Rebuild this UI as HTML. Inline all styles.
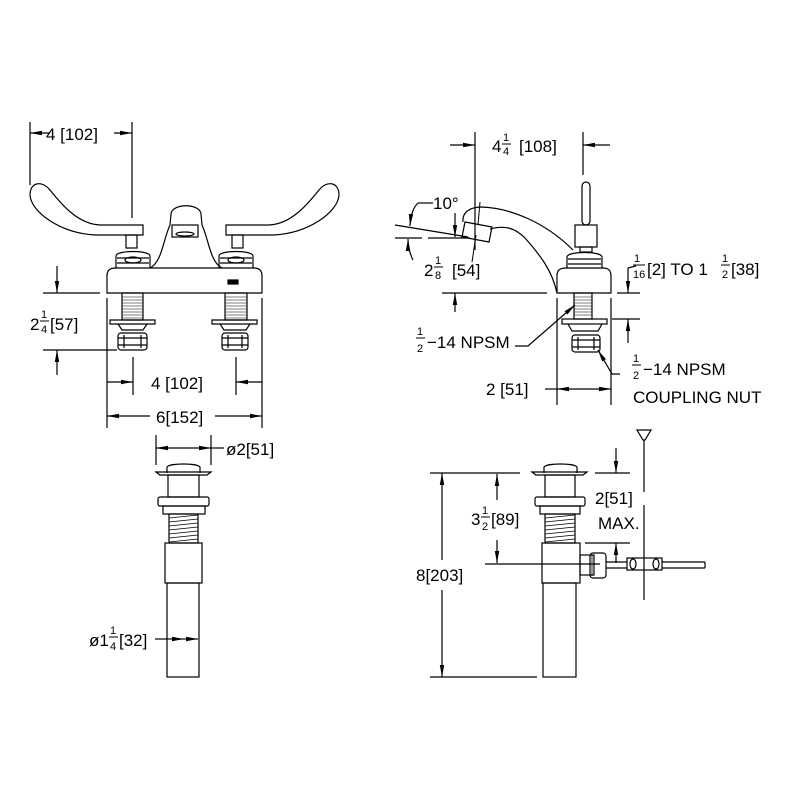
<!DOCTYPE html>
<html><head><meta charset="utf-8"><style>
html,body{margin:0;padding:0;background:#fff}
svg{display:block}
text{font-family:"Liberation Sans",sans-serif;fill:#000}
</style></head><body>
<svg width="800" height="800" viewBox="0 0 800 800" xmlns="http://www.w3.org/2000/svg">
<defs>
<marker id="a" viewBox="0 0 12 6" refX="12" refY="3" markerWidth="12" markerHeight="6" markerUnits="userSpaceOnUse" orient="auto"><path d="M0,0.8 L12,3 L0,5.2 Z" fill="#000"/></marker>
</defs>
<g fill="none" stroke="#000" stroke-width="1.2">
<!-- ===== TOP LEFT FRONT VIEW ===== -->
<line x1="30" y1="122" x2="30" y2="185"/>
<line x1="132" y1="122" x2="132" y2="218"/>
<line x1="50" y1="133" x2="30" y2="133" marker-end="url(#a)"/>
<line x1="114" y1="133" x2="132" y2="133" marker-end="url(#a)"/>
<!-- handles -->
<path id="h" d="M143,225 L100,225 C78,224 62,205 50,190 C42,180 30,182 30,195 C31,212 60,233 95,235 L143,235 Z"/>
<path d="M143,225 L100,225 C78,224 62,205 50,190 C42,180 30,182 30,195 C31,212 60,233 95,235 L143,235 Z" transform="translate(369,0) scale(-1,1)"/>
<rect x="126" y="235" width="11" height="13"/>
<rect x="232" y="235" width="11" height="13"/>
<!-- bonnet nuts -->
<path d="M116,268 L116,256 C116,250 150,250 150,256 L150,268"/>
<line x1="117" y1="258" x2="149" y2="258"/><line x1="117" y1="263" x2="149" y2="263"/>
<ellipse cx="133" cy="260" rx="8" ry="3"/>
<path d="M219,268 L219,256 C219,250 253,250 253,256 L253,268"/>
<line x1="220" y1="258" x2="252" y2="258"/><line x1="220" y1="263" x2="252" y2="263"/>
<ellipse cx="236" cy="260" rx="8" ry="3"/>
<!-- spout front -->
<path d="M150,268 C162,262 163,240 170,225 L171,214 C172,203 200,203 201,214 L202,225 C209,240 210,262 222,268"/>
<rect x="172" y="225" width="26" height="12"/>
<ellipse cx="185" cy="234" rx="9" ry="2"/>
<!-- body -->
<path d="M107,293 L107,276 C107,270 110,268 116,268 L253,268 C259,268 262,270 262,276 L262,293 Z"/>
<rect x="228" y="280" width="10" height="4" fill="#000"/>
<!-- shanks -->
<rect x="122" y="293" width="21" height="27"/>
<rect x="225" y="293" width="22" height="27"/>
<g stroke-width="0.6">
<path d="M122,297h21M122,300h21M122,303h21M122,306h21M122,309h21M122,312h21M122,315h21M122,318h21"/>
<path d="M225,297h22M225,300h22M225,303h22M225,306h22M225,309h22M225,312h22M225,315h22M225,318h22"/>
</g>
<path d="M110,320 L155,320 L155,324 L110,324 Z M118,324 L122,330 L143,330 L147,324"/>
<path d="M212,320 L257,320 L257,324 L212,324 Z M220,324 L224,330 L246,330 L250,324"/>
<rect x="118" y="333" width="29" height="17" rx="3"/>
<path d="M124,335v13M141,335v13M118,338h29M118,345h29"/>
<rect x="222" y="333" width="26" height="17" rx="3"/>
<path d="M228,335v13M242,335v13M222,338h26M222,345h26"/>
<!-- dims -->
<line x1="43" y1="293" x2="100" y2="293"/>
<line x1="43" y1="350" x2="117" y2="350"/>
<line x1="57" y1="266" x2="57" y2="293" marker-end="url(#a)"/>
<line x1="57" y1="375" x2="57" y2="350" marker-end="url(#a)"/>
<line x1="107" y1="298" x2="107" y2="428"/>
<line x1="262" y1="298" x2="262" y2="428"/>
<line x1="133" y1="357" x2="133" y2="395"/>
<line x1="236" y1="357" x2="236" y2="395"/>
<line x1="107" y1="382" x2="133" y2="382" marker-end="url(#a)"/>
<line x1="262" y1="382" x2="236" y2="382" marker-end="url(#a)"/>
<line x1="150" y1="416" x2="107" y2="416" marker-end="url(#a)"/>
<line x1="215" y1="416" x2="262" y2="416" marker-end="url(#a)"/>

<!-- ===== TOP RIGHT SIDE VIEW ===== -->
<line x1="475" y1="132" x2="475" y2="250"/>
<line x1="583" y1="132" x2="583" y2="175"/>
<line x1="450" y1="145" x2="475" y2="145" marker-end="url(#a)"/>
<line x1="610" y1="145" x2="583" y2="145" marker-end="url(#a)"/>
<!-- handle -->
<rect x="582" y="182" width="8" height="43" rx="4"/>
<rect x="575" y="225" width="22" height="22"/>
<rect x="580" y="247" width="12" height="5"/>
<path d="M567,268 L567,257 C567,251 602,251 602,257 L602,268"/>
<line x1="568" y1="259" x2="601" y2="259"/><line x1="568" y1="264" x2="601" y2="264"/>
<!-- spout -->
<path d="M463,222 C462,212 470,207 482,207 C510,208 545,222 573,250"/>
<path d="M490,229 C505,225 515,228 525,238 C540,255 552,270 557,293"/>
<path d="M465,222 L492,227 L489,242 L462,237 Z"/>
<!-- body -->
<path d="M557,293 L557,276 C557,270 560,268 566,268 L603,268 C608,268 611,270 611,276 L611,293 Z"/>
<rect x="574" y="293" width="18" height="26"/>
<g stroke-width="0.6"><path d="M574,297h18M574,300h18M574,303h18M574,306h18M574,309h18M574,312h18M574,315h18"/></g>
<rect x="562" y="319" width="45" height="5"/>
<path d="M568,324 L572,331 L598,331 L602,324"/>
<rect x="572" y="335" width="28" height="17" rx="3"/>
<path d="M578,337v13M594,337v13M572,340h28M572,347h28"/>
<!-- 10 deg -->
<line x1="395" y1="225" x2="468" y2="237"/>
<line x1="395" y1="238" x2="422" y2="238"/>
<line x1="428" y1="238" x2="470" y2="238"/>
<path d="M480,202 L478,225" stroke-width="1"/>
<path d="M476,235 L472,262" stroke-width="1"/>
<path d="M418,203 L433,203"/>
<path d="M418,203 C413,208 411,214 410,226" marker-end="url(#a)"/>
<path d="M413,260 C410,254 408,248 408,239" marker-end="url(#a)"/>
<!-- 2 1/8 -->
<line x1="455" y1="213" x2="455" y2="237" marker-end="url(#a)"/>
<line x1="455" y1="312" x2="455" y2="293" marker-end="url(#a)"/>
<line x1="442" y1="293" x2="547" y2="293"/>
<!-- 1/16 to 1 1/2 -->
<line x1="617" y1="293" x2="640" y2="293"/>
<line x1="612" y1="319" x2="640" y2="319"/>
<line x1="628" y1="268" x2="628" y2="293" marker-end="url(#a)"/>
<line x1="628" y1="343" x2="628" y2="319" marker-end="url(#a)"/>
<path d="M628,268 L636,266"/>
<!-- NPSM leaders -->
<path d="M515,346 L528,346 L575,305" marker-end="url(#a)"/>
<path d="M620,374 L612,374 L598,350" marker-end="url(#a)"/>
<!-- 2[51] -->
<line x1="557" y1="298" x2="557" y2="405"/>
<line x1="611" y1="298" x2="611" y2="405"/>
<line x1="545" y1="389" x2="557" y2="389"/>
<line x1="584" y1="389" x2="557" y2="389" marker-end="url(#a)"/>
<line x1="584" y1="389" x2="611" y2="389" marker-end="url(#a)"/>

<!-- ===== BOTTOM LEFT DRAIN ===== -->
<line x1="156" y1="435" x2="156" y2="465"/>
<line x1="211" y1="435" x2="211" y2="465"/>
<line x1="183" y1="448" x2="156" y2="448" marker-end="url(#a)"/>
<line x1="183" y1="448" x2="211" y2="448" marker-end="url(#a)"/>
<line x1="211" y1="448" x2="224" y2="448"/>
<path d="M167,473 L167,467 C170,463 197,463 200,467 L200,473"/>
<path d="M156,472 L211,472 L207,475 L160,475 Z"/>
<rect x="168" y="475" width="31" height="22"/>
<rect x="158" y="497" width="51" height="9" rx="2"/>
<rect x="163" y="506" width="42" height="8"/>
<rect x="169" y="514" width="29" height="29"/>
<g stroke-width="0.8"><path d="M169,518l29,-3M169,522l29,-3M169,526l29,-3M169,530l29,-3M169,534l29,-3M169,538l29,-3M169,542l29,-3"/></g>
<rect x="165" y="543" width="37" height="40"/>
<rect x="167" y="583" width="32" height="94"/>
<line x1="155" y1="639" x2="170" y2="639"/>
<line x1="170" y1="639" x2="184" y2="639" marker-end="url(#a)"/>
<line x1="184" y1="639" x2="198" y2="639" marker-end="url(#a)"/>

<!-- ===== BOTTOM RIGHT DRAIN ===== -->
<path d="M544,473 L544,467 C547,463 574,463 577,467 L577,473"/>
<path d="M532,472 L587,472 L583,475 L536,475 Z"/>
<rect x="545" y="475" width="30" height="22"/>
<rect x="535" y="497" width="50" height="9" rx="2"/>
<rect x="540" y="506" width="40" height="8"/>
<rect x="545" y="514" width="30" height="29"/>
<g stroke-width="0.8"><path d="M545,518l30,-3M545,522l30,-3M545,526l30,-3M545,530l30,-3M545,534l30,-3M545,538l30,-3M545,542l30,-3"/></g>
<rect x="542" y="543" width="38" height="40"/>
<rect x="543" y="583" width="33" height="94"/>
<!-- popup -->
<rect x="580" y="555" width="14" height="20"/>
<rect x="590" y="553" width="16" height="25" rx="3"/>
<path d="M592,555v21" stroke-width="0.8"/>
<line x1="606" y1="562" x2="705" y2="562"/>
<line x1="606" y1="568" x2="705" y2="568"/>
<line x1="705" y1="562" x2="705" y2="568"/>
<rect x="627" y="558" width="35" height="12" fill="#fff"/>
<ellipse cx="633" cy="564" rx="3" ry="5"/>
<ellipse cx="656" cy="564" rx="3" ry="5"/>
<path d="M637,430 L651,430 L645,440 L643,440 Z"/>
<line x1="644" y1="440" x2="644" y2="492"/>
<line x1="644" y1="505" x2="644" y2="600"/>
<!-- dims -->
<line x1="430" y1="473" x2="520" y2="473"/>
<line x1="430" y1="677" x2="537" y2="677"/>
<line x1="442" y1="560" x2="442" y2="473" marker-end="url(#a)"/>
<line x1="442" y1="590" x2="442" y2="677" marker-end="url(#a)"/>
<line x1="485" y1="564" x2="600" y2="564"/>
<line x1="497" y1="500" x2="497" y2="474" marker-end="url(#a)"/>
<line x1="497" y1="540" x2="497" y2="563" marker-end="url(#a)"/>
<line x1="595" y1="473" x2="630" y2="473"/>
<line x1="585" y1="543" x2="630" y2="543"/>
<line x1="616" y1="448" x2="616" y2="473" marker-end="url(#a)"/>
<line x1="616" y1="563" x2="616" y2="543" marker-end="url(#a)"/>
</g>

<!-- ===== TEXT ===== -->
<g font-size="17">
<text x="46" y="140">4 [102]</text>
<text x="30" y="330">2</text><text x="41" y="318" font-size="11">1</text><line x1="40" y1="321" x2="49" y2="321" stroke="#000"/><text x="41" y="333" font-size="11">4</text><text x="50" y="330">[57]</text>
<text x="151" y="389">4 [102]</text>
<text x="156" y="423">6[152]</text>

<text x="492" y="152">4</text><text x="503" y="141" font-size="11">1</text><line x1="502" y1="144" x2="511" y2="144" stroke="#000"/><text x="503" y="155" font-size="11">4</text><text x="519" y="152">[108]</text>
<text x="433" y="209">10°</text>
<text x="424" y="276">2</text><text x="435" y="264" font-size="11">1</text><line x1="434" y1="267" x2="443" y2="267" stroke="#000"/><text x="435" y="279" font-size="11">8</text><text x="452" y="276">[54]</text>
<text x="634" y="262" font-size="11">1</text><line x1="633" y1="265" x2="645" y2="265" stroke="#000"/><text x="633" y="278" font-size="11">16</text><text x="647" y="275">[2] TO 1</text><text x="722" y="262" font-size="11">1</text><line x1="721" y1="265" x2="730" y2="265" stroke="#000"/><text x="722" y="278" font-size="11">2</text><text x="731" y="275">[38]</text>
<text x="417" y="335" font-size="11">1</text><line x1="416" y1="338" x2="425" y2="338" stroke="#000"/><text x="417" y="352" font-size="11">2</text><text x="427" y="348">−14  NPSM</text>
<text x="633" y="362" font-size="11">1</text><line x1="632" y1="365" x2="641" y2="365" stroke="#000"/><text x="633" y="379" font-size="11">2</text><text x="643" y="375">−14  NPSM</text>
<text x="633" y="403">COUPLING NUT</text>
<text x="486" y="395">2 [51]</text>

<text x="226" y="455">ø2[51]</text>
<text x="89" y="646">ø1</text><text x="110" y="634" font-size="11">1</text><line x1="109" y1="637" x2="118" y2="637" stroke="#000"/><text x="110" y="650" font-size="11">4</text><text x="119" y="646">[32]</text>

<rect x="414" y="562" width="56" height="22" fill="#fff"/>
<text x="416" y="581">8[203]</text>
<rect x="470" y="506" width="56" height="28" fill="#fff"/>
<text x="471" y="525">3</text><text x="482" y="514" font-size="11">1</text><line x1="481" y1="517" x2="490" y2="517" stroke="#000"/><text x="482" y="530" font-size="11">2</text><text x="491" y="525">[89]</text>
<text x="595" y="504">2[51]</text>
<text x="598" y="529">MAX.</text>
</g>
</svg>
</body></html>
